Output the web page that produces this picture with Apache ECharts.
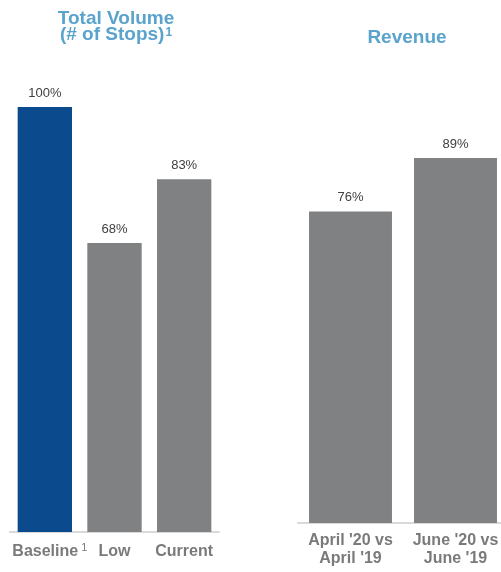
<!DOCTYPE html>
<html>
<head>
<meta charset="utf-8">
<style>html,body{margin:0;padding:0;background:#fff;}#c{width:501px;height:572px;}</style>
<script src="https://cdn.jsdelivr.net/npm/echarts@6/dist/echarts.min.js"></script>
</head>
<body>
<div id="c"></div>
<script>
const volumeCategories = ['Baseline', 'Low', 'Current'];
const volumeValues = [100, 68, 83];
const volumeFootnotes = ['1', '', ''];
const revenueCategories = ["April '20 vs\nApril '19", "June '20 vs\nJune '19"];
const revenueValues = [76, 89];

const blue = '#0b4a8d';
const grey = '#7f8182';
const titleColor = '#5aa3cd';
const font = 'Liberation Sans, Arial, sans-serif';

const chart = echarts.init(document.getElementById('c'), null, {renderer: 'canvas'});
chart.setOption({
  animation: false,
  backgroundColor: '#fff',
  title: [
    {
      text: '{t|Total Volume}\n{t|(# of Stops)}{s|1}',
      left: 111, top: 6, textAlign: 'center',
      textStyle: {
        rich: {
          t: {fontFamily: font, fontWeight: 'bold', fontSize: 19, color: titleColor, lineHeight: 16},
          s: {fontFamily: font, fontWeight: 'bold', fontSize: 12, color: titleColor, verticalAlign: 'top', lineHeight: 16, padding: [0,0,5,1]}
        }
      }
    },
    {
      text: 'Revenue',
      left: 402, top: 23, textAlign: 'center',
      textStyle: {fontFamily: font, fontWeight: 'bold', fontSize: 19, color: titleColor}
    }
  ],
  grid: [
    {left: 10, width: 209, top: 107, height: 425, containLabel: false, outerBoundsMode: 'none'},
    {left: 298, width: 210, top: 113, height: 410, containLabel: false, outerBoundsMode: 'none'}
  ],
  xAxis: [
    {
      type: 'category', gridIndex: 0, data: volumeCategories,
      axisLine: {lineStyle: {color: '#d9d9d9', width: 2}},
      axisTick: {show: false},
      axisLabel: {
        margin: 10, interval: 0,
        formatter: function (v, i) {
          return volumeFootnotes[i] ? '{p|' + v + '}{s|' + volumeFootnotes[i] + '}' : '{a|' + v + '}';
        },
        rich: {
          a: {fontFamily: font, fontWeight: 'bold', fontSize: 16, color: '#7a7a7a', lineHeight: 20},
          p: {fontFamily: font, fontWeight: 'bold', fontSize: 16, color: '#7a7a7a', lineHeight: 20, padding: [0,0,0,10]},
          s: {fontFamily: font, fontSize: 11, color: '#7a7a7a', verticalAlign: 'top', lineHeight: 9, padding: [0,0,0,3]}
        }
      }
    },
    {
      type: 'category', gridIndex: 1, data: revenueCategories,
      axisLine: {lineStyle: {color: '#d9d9d9', width: 2}},
      axisTick: {show: false},
      axisLabel: {
        margin: 9, interval: 0,
        fontFamily: font, fontWeight: 'bold', fontSize: 16, color: '#7a7a7a', lineHeight: 18
      }
    }
  ],
  yAxis: [
    {type: 'value', gridIndex: 0, min: 0, max: 100, show: false},
    {type: 'value', gridIndex: 1, min: 0, max: 100, show: false}
  ],
  series: [
    {
      type: 'bar', xAxisIndex: 0, yAxisIndex: 0,
      data: volumeValues.map(function (v, i) {
        return {value: v, itemStyle: {color: i === 0 ? blue : grey}};
      }),
      barCategoryGap: '22%',
      label: {
        show: true, position: 'top', distance: 7,
        formatter: '{c}%', fontFamily: font, fontSize: 13, color: '#404040'
      }
    },
    {
      type: 'bar', xAxisIndex: 1, yAxisIndex: 1,
      data: revenueValues,
      itemStyle: {color: grey},
      barCategoryGap: '21%',
      label: {
        show: true, position: 'top', distance: 7,
        formatter: '{c}%', fontFamily: font, fontSize: 13, color: '#404040'
      }
    }
  ]
});
</script>
</body>
</html>
